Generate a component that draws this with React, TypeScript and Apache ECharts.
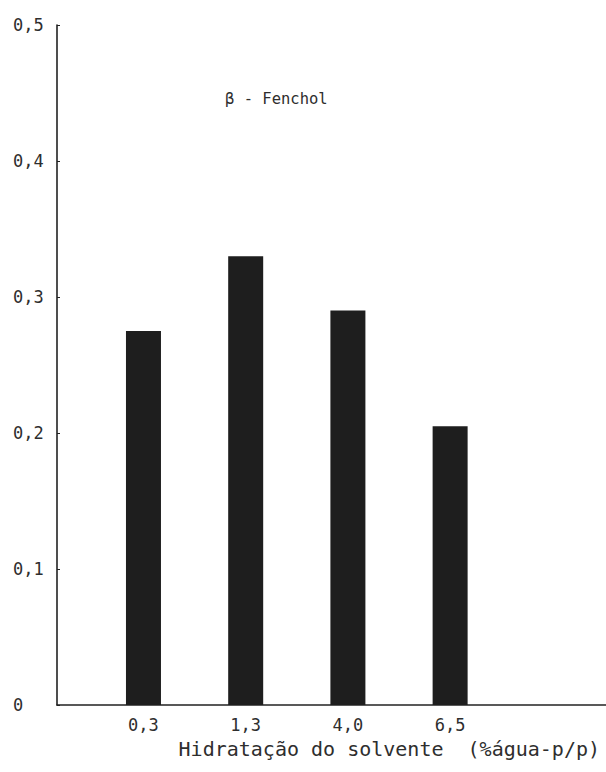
import React, { useEffect, useRef } from "react";
import * as echarts from "echarts";

const categories = ["0,3", "1,3", "4,0", "6,5"];
const values = [0.275, 0.33, 0.29, 0.205];
const yTicks = [0, 0.1, 0.2, 0.3, 0.4, 0.5];
const titleText = "β - Fenchol";
const xAxisName = "Hidratação do solvente  (%água-p/p)";

const FONT = "'DejaVu Sans Mono', monospace";

export default function App() {
  const ref = useRef<HTMLDivElement>(null);
  useEffect(() => {
    if (!ref.current) return;
    const chart = echarts.init(ref.current, null, { renderer: "svg" });
    const positions = categories.map((_, i) => i + 1);
    chart.setOption({
      animation: false,
      backgroundColor: "#ffffff",
      grid: { left: 57, right: 0, top: 25, bottom: 67, containLabel: false },
      xAxis: {
        type: "value",
        min: 0.154,
        max: 5.525,
        splitLine: { show: false },
        axisLine: { show: true, lineStyle: { color: "#222", width: 1.6 } },
        axisTick: { show: false },
        axisLabel: {
          customValues: positions,
          formatter: (v: number) => categories[Math.round(v) - 1] ?? "",
          fontFamily: FONT,
          fontSize: 17,
          color: "#2e2e2e",
          margin: 11,
        },
      },
      yAxis: {
        type: "value",
        min: 0,
        max: 0.5,
        interval: 0.1,
        splitLine: { show: false },
        axisLine: { show: true, onZero: false, lineStyle: { color: "#222", width: 1.6 } },
        axisTick: { show: true, inside: true, length: 3, lineStyle: { color: "#222" } },
        axisLabel: {
          customValues: yTicks,
          formatter: (v: number) => (v === 0 ? "0" : v.toFixed(1).replace(".", ",")),
          fontFamily: FONT,
          fontSize: 17,
          color: "#2e2e2e",
          align: "left",
          margin: 44,
        },
      },
      graphic: [
        {
          type: "text",
          left: 225,
          top: 91,
          style: { text: titleText, fontFamily: FONT, fontSize: 15.5, fill: "#2e2e2e" },
        },
        {
          type: "text",
          right: 6,
          top: 739,
          style: { text: xAxisName, fontFamily: FONT, fontSize: 20, fill: "#2e2e2e" },
        },
      ],
      series: [
        {
          type: "bar",
          data: positions.map((p, i) => [p, values[i]]),
          barWidth: 35,
          itemStyle: { color: "#1e1e1e" },
        },
      ],
    });
    return () => chart.dispose();
  }, []);
  return (
    <div
      ref={ref}
      style={{ position: "fixed", left: 0, top: 0, width: 606, height: 772 }}
    />
  );
}
